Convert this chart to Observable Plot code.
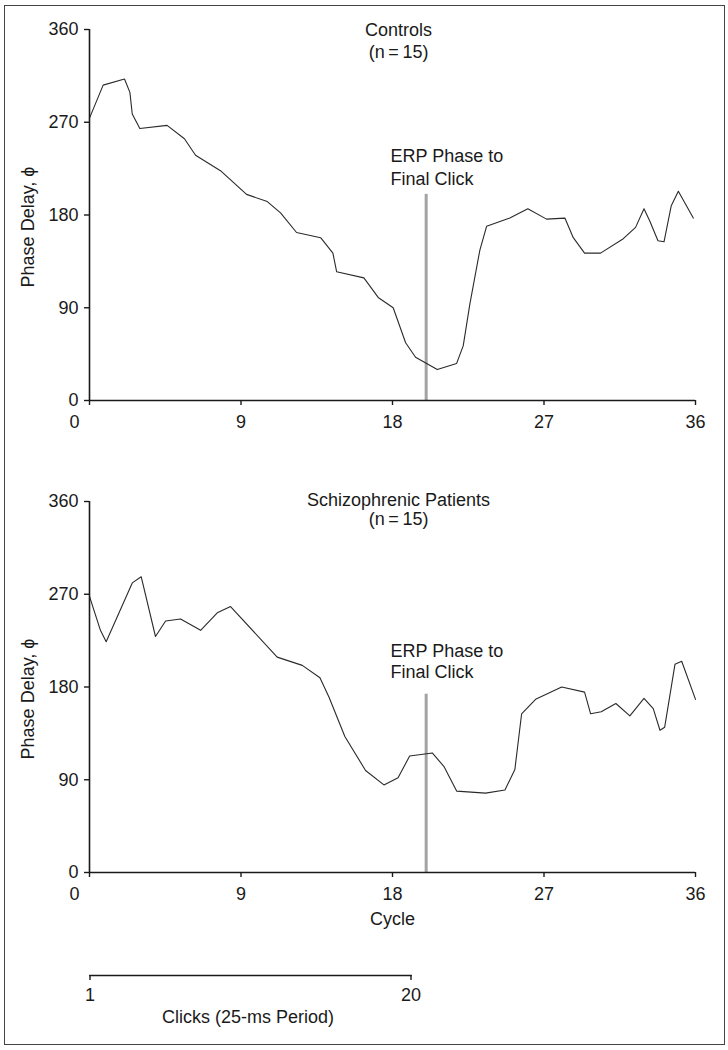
<!DOCTYPE html>
<html><head><meta charset="utf-8">
<script src="https://cdn.jsdelivr.net/npm/d3@7"></script>
<script src="https://cdn.jsdelivr.net/npm/@observablehq/plot@0.6"></script>
<style>
body{margin:0;background:#fff;}
#wrap{position:relative;width:728px;height:1050px;overflow:hidden;}
#border{position:absolute;left:4px;top:5px;width:721px;height:1040px;border:1.5px solid #444;box-sizing:border-box;}
.p{position:absolute;left:0;}
</style></head><body>
<div id="wrap"><div id="border"></div></div>
<script>
const xTicks = [0, 9, 18, 27, 36];
const yTicks = [0, 90, 180, 270, 360];
const clickTicks = [1, 20];

const controlsCycle = [0, 0.81, 2.08, 2.4, 2.54, 2.99, 4.61, 5.64, 6.3, 7.78, 9.33, 10.56, 11.35, 12.3, 13.73, 14.46, 14.68, 16.3, 17.15, 18.04, 18.78, 19.37, 20.66, 21.81, 22.2, 22.6, 23.19, 23.59, 24.97, 26.04, 27.15, 28.24, 28.74, 29.41, 30.36, 31.71, 32.44, 32.94, 33.29, 33.77, 34.13, 34.56, 34.98, 35.87];
const controlsPhase = [274, 306, 312, 299, 278, 264, 267, 254, 238, 223, 200, 193, 182, 163, 158, 143, 125, 119, 100, 90, 56, 42, 30, 36, 53, 94, 146, 169, 177, 186, 176, 177, 158, 143, 143, 157, 168, 186, 174, 155, 154, 189, 203, 177];

const patientsCycle = [0, 0.65, 0.99, 2.54, 3.07, 3.92, 4.52, 5.41, 6.6, 7.59, 8.38, 11.15, 12.64, 13.69, 14.23, 15.17, 16.4, 17.49, 18.33, 19.02, 20.36, 21.05, 21.81, 23.53, 24.68, 25.27, 25.67, 26.5, 28.05, 29.41, 29.77, 30.4, 31.27, 32.1, 32.94, 33.49, 33.89, 34.17, 34.78, 35.18, 36];
const patientsPhase = [268, 235, 224, 281, 287, 229, 244, 246, 235, 252, 258, 209, 201, 189, 170, 132, 99, 85, 92, 113, 116, 103, 79, 77, 80, 100, 154, 168, 180, 175, 154, 156, 164, 152, 169, 159, 138, 141, 202, 205, 168];

const erpCycle = 20;
const erpLabel = "ERP Phase to\nFinal Click";
const yLabel = "Phase Delay, \u03D5";

const FONT = "'Liberation Sans', Arial, Helvetica, sans-serif";
const INK = "#1a1a1a";

function panel({cycles, phases, title, erpTop, erpLabelY, erpLH, titleLH, xLabel, height, marginBottom}) {
  const data = cycles.map((c, i) => ({cycle: c, phase: phases[i]}));
  return Plot.plot({
    width: 728, height, marginTop: 29, marginBottom, marginLeft: 89, marginRight: 33,
    style: {fontFamily: FONT, fontSize: "18px", color: INK, background: "transparent", overflow: "visible"},
    x: {domain: [0, 36]},
    y: {domain: [0, 360]},
    marks: [
      Plot.ruleX([erpCycle], {y1: 0, y2: erpTop, stroke: "#a3a3a3", strokeWidth: 3}),
      Plot.line(data, {x: "cycle", y: "phase", stroke: "#2a2a2a", strokeWidth: 1.1}),
      Plot.ruleX([0], {stroke: INK, strokeWidth: 1.6}),
      Plot.ruleY([0], {stroke: INK, strokeWidth: 1.6}),
      Plot.axisY({ticks: yTicks, tickSize: 5, tickPadding: 6, label: null, stroke: INK, strokeWidth: 1.4}),
      Plot.axisX({ticks: xTicks, tickSize: 5, tickPadding: 10, label: null, stroke: INK, strokeWidth: 1.4,
                  tickFormat: d => d === 0 ? "" : String(d)}),
      Plot.text([0], {x: d => d, y: 0, text: d => String(d), dy: 15, dx: -15, lineAnchor: "top"}),
      Plot.text([yLabel], {text: d => d, x: -3.625, y: 168.35, rotate: -90}),
      Plot.text([title], {text: d => d, x: 18.36, frameAnchor: "top", lineAnchor: "top", dy: -8.5, lineHeight: titleLH}),
      Plot.text([erpLabel], {text: d => d, x: 17.88, y: erpLabelY, textAnchor: "start", lineAnchor: "top", lineHeight: erpLH}),
      xLabel ? Plot.text([xLabel], {text: d => d, x: 18, frameAnchor: "bottom", lineAnchor: "top", dy: 40}) : null
    ]
  });
}

const wrap = document.getElementById("wrap");

const top1 = panel({cycles: controlsCycle, phases: controlsPhase, title: "Controls\n(n\u2009=\u200915)",
  erpTop: 200, erpLabelY: 246.5, erpLH: 1.24, titleLH: 1.2, xLabel: null, height: 440, marginBottom: 40});
top1.classList.add("p"); top1.style.top = "0px";
wrap.appendChild(top1);

const top2 = panel({cycles: patientsCycle, phases: patientsPhase, title: "Schizophrenic Patients\n(n\u2009=\u200915)",
  erpTop: 173, erpLabelY: 223.5, erpLH: 1.17, titleLH: 1.05, xLabel: "Cycle", height: 460, marginBottom: 60});
top2.classList.add("p"); top2.style.top = "472px";
wrap.appendChild(top2);

const clicks = Plot.plot({
  width: 728, height: 80, marginTop: 10, marginBottom: 60, marginLeft: 89.5, marginRight: 728 - 410.5,
  style: {fontFamily: FONT, fontSize: "18px", color: INK, background: "transparent", overflow: "visible"},
  x: {domain: [1, 20]},
  marks: [
    Plot.frame({anchor: "bottom", stroke: INK, strokeWidth: 1.6}),
    Plot.axisX({ticks: clickTicks, tickSize: 5, tickPadding: 8, label: null, stroke: INK, strokeWidth: 1.4}),
    Plot.text(["Clicks (25-ms Period)"], {text: d => d, x: 10.35, frameAnchor: "bottom", dy: 47.5})
  ]
});
clicks.classList.add("p"); clicks.style.top = "955px";
wrap.appendChild(clicks);
</script>
</body></html>
